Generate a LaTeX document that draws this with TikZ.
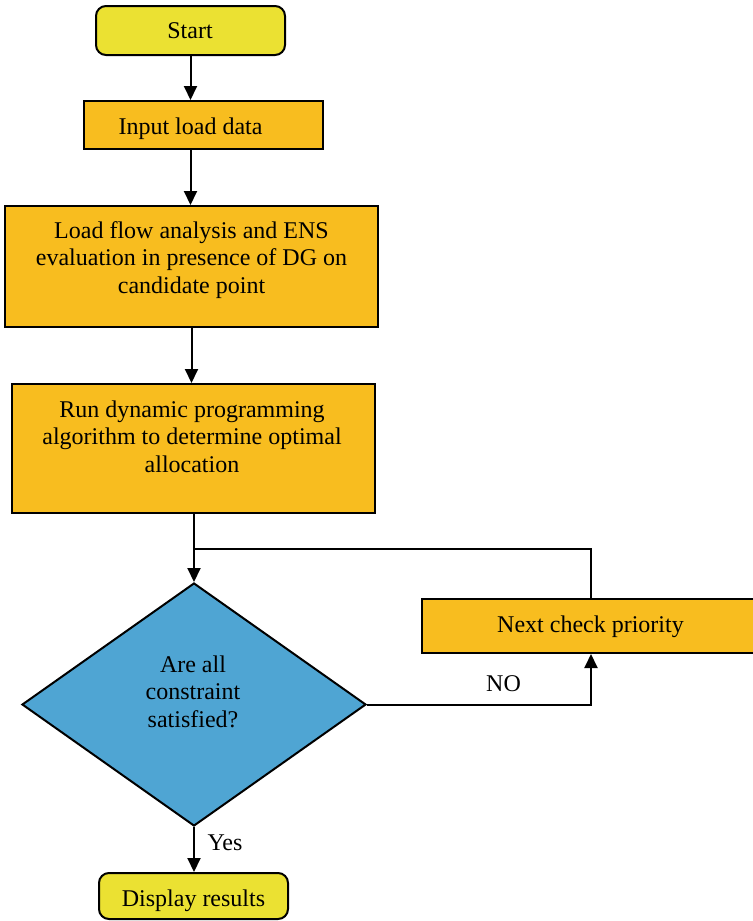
\documentclass[tikz,border=0pt]{standalone}
\usepackage{fontspec}
\setmainfont{Liberation Serif}
\usetikzlibrary{shapes.geometric,arrows.meta}
\definecolor{boxyellow}{HTML}{EBE132}
\definecolor{boxorange}{HTML}{F8BD1F}
\definecolor{boxblue}{HTML}{4FA5D3}
\begin{document}
\begin{tikzpicture}[x=0.5pt,y=-0.5pt,
  every node/.style={font=\fontsize{12}{13.75}\selectfont},
  terminal/.style={draw=black, line width=1pt, fill=boxyellow, rounded corners=5pt, inner sep=0pt},
  procbox/.style={draw=black, line width=1pt, fill=boxorange, inner sep=0pt},
  decision/.style={draw=black, line width=1pt, fill=boxblue, shape=diamond, inner sep=0pt},
  txt/.style={anchor=base, inner sep=0pt, align=center},
  conn/.style={line width=1pt, -{Triangle[length=7pt,width=6.5pt]}},
  plain/.style={line width=1pt}]
\clip (0,0) rectangle (753,921);

% boxes
\node[terminal, minimum width=94.5pt, minimum height=24.5pt] (start) at (190.5,30.5) {};
\node[procbox, minimum width=119.5pt, minimum height=24pt] (input) at (203.5,125) {};
\node[procbox, minimum width=186.5pt, minimum height=60.5pt] (lf) at (191.5,266.5) {};
\node[procbox, minimum width=181.5pt, minimum height=64.5pt] (run) at (193.5,448.5) {};
\node[decision, minimum width=172pt, minimum height=121.5pt] (dia) at (194,704.5) {};
\node[procbox, minimum width=169pt, minimum height=27pt] (next) at (591,626) {};
\node[terminal, minimum width=94.5pt, minimum height=23pt] (disp) at (193.5,896) {};

% texts (multi-line texts are placed by the baseline of their last line)
\node[txt] (tstart) at (190,39) {Start};
\node[txt] (tinput) at (190.5,134) {Input load data};
\node[txt] (tlf) at (191.5,293) {Load flow analysis and ENS\\evaluation in presence of DG on\\candidate point};
\node[txt] (trun) at (192,472) {Run dynamic programming\\algorithm to determine optimal\\allocation};
\node[txt] (tdia) at (193,727) {Are all\\constraint\\satisfied?};
\node[txt] (tnext) at (590.5,632) {Next check priority};
\node[txt] (tdisp) at (193.5,906.5) {Display results};
\node[txt] (tno) at (503.5,691) {NO};
\node[txt] (tyes) at (225,850) {Yes};

% connectors
\coordinate (merge) at (194,549);
\draw[conn] (start.south) -- (start.south |- input.north);
\draw[conn] (start.south |- input.south) -- (start.south |- lf.north);
\draw[conn] (lf.south) -- (lf.south |- run.north);
\draw[conn] (run.south -| dia.north) -- (dia.north);
\draw[plain] (next.north) |- (merge);
\draw[conn] (dia.east) -| (next.south);
\draw[conn] (dia.south) -- (dia.south |- disp.north);
\end{tikzpicture}
\end{document}
